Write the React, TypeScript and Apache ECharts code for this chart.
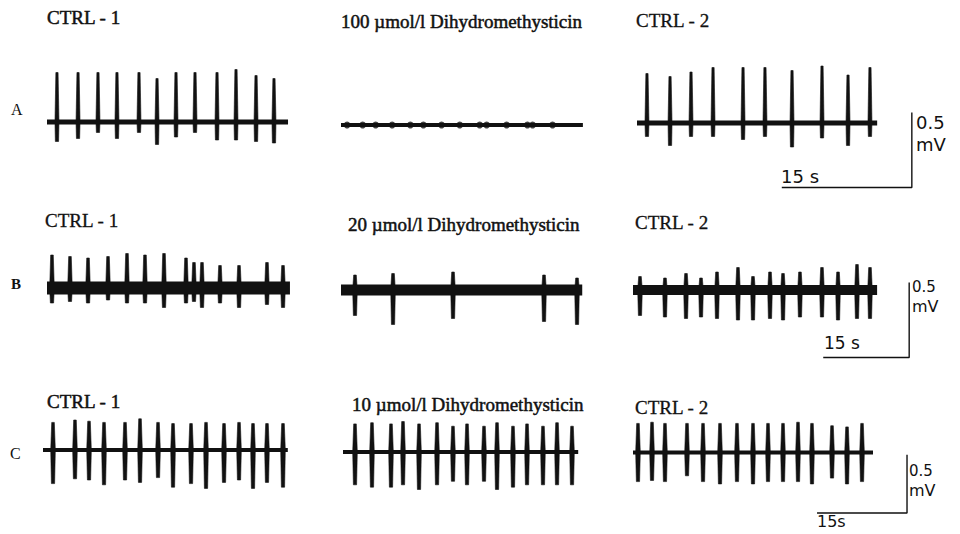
import React, { useEffect, useRef } from "react";
import * as echarts from "echarts";

// ---- Data (seconds, mV) ----
// Row A : 100 µmol/l
const A1_TIMES = [1.15, 3.58, 5.88, 8.07, 10.61, 12.69, 14.88, 17.07, 19.61, 21.8, 24.11, 26.18];
const A1_UP = [0.33, 0.33, 0.33, 0.33, 0.33, 0.29, 0.33, 0.33, 0.33, 0.35, 0.31, 0.29];
const A1_DOWN = [0.13, 0.11, 0.07, 0.11, 0.07, 0.15, 0.1, 0.07, 0.12, 0.12, 0.13, 0.14];
const A2_TIMES: number[] = [];
const A2_UP: number[] = [];
const A2_DOWN: number[] = [];
// small noise blobs on the otherwise flat 100 µmol/l trace
const A2_BLOB_TIMES = [0.7, 2.5, 4.0, 5.9, 8.0, 9.5, 11.6, 13.7, 16.0, 16.8, 19.1, 21.5, 22.1, 24.4];
const A3_TIMES = [1.15, 3.81, 6.23, 8.77, 12.23, 14.76, 17.88, 21.34, 24.34, 26.87];
const A3_UP = [0.33, 0.31, 0.34, 0.37, 0.37, 0.37, 0.35, 0.38, 0.32, 0.37];
const A3_DOWN = [0.09, 0.15, 0.09, 0.09, 0.11, 0.09, 0.16, 0.1, 0.15, 0.09];

// Row B : 20 µmol/l
const B1_TIMES = [0.87, 4.01, 7.16, 10.65, 13.96, 17.1, 20.42, 24.26, 25.65, 27.05, 30.19, 33.51, 38.39, 41.19];
const B1_UP = [0.22, 0.21, 0.2, 0.21, 0.23, 0.22, 0.23, 0.2, 0.17, 0.17, 0.15, 0.15, 0.17, 0.15];
const B1_DOWN = [0.1, 0.09, 0.1, 0.08, 0.1, 0.1, 0.13, 0.1, 0.09, 0.13, 0.1, 0.13, 0.11, 0.13];
const B2_TIMES = [2.44, 9.08, 19.55, 35.43, 41.19];
const B2_UP = [0.1, 0.11, 0.12, 0.1, 0.08];
const B2_DOWN = [0.17, 0.23, 0.19, 0.21, 0.23];
const B3_TIMES = [1.22, 5.58, 9.25, 11.87, 14.66, 18.32, 20.94, 23.91, 26.18, 29.14, 32.98, 35.78, 39.09, 41.36];
const B3_UP = [0.09, 0.08, 0.11, 0.08, 0.12, 0.15, 0.09, 0.12, 0.11, 0.12, 0.15, 0.12, 0.17, 0.15];
const B3_DOWN = [0.17, 0.18, 0.19, 0.18, 0.19, 0.2, 0.2, 0.19, 0.2, 0.18, 0.18, 0.2, 0.19, 0.19];

// Row C : 10 µmol/l
const C1_TIMES = [1.67, 5.33, 7.67, 10.17, 13.67, 16.17, 19.17, 21.67, 24.67, 27.17, 30.17, 32.67, 35.0, 37.33, 40.0];
const C1_UP = [0.23, 0.25, 0.24, 0.23, 0.23, 0.26, 0.23, 0.22, 0.22, 0.23, 0.22, 0.23, 0.22, 0.22, 0.22];
const C1_DOWN = [0.28, 0.24, 0.25, 0.29, 0.25, 0.27, 0.23, 0.31, 0.28, 0.32, 0.27, 0.25, 0.32, 0.27, 0.31];
const C2_TIMES = [2.0, 4.83, 8.0, 10.0, 12.67, 15.67, 18.33, 20.67, 23.5, 25.67, 28.33, 30.67, 33.33, 35.67, 38.17];
const C2_UP = [0.24, 0.25, 0.24, 0.26, 0.24, 0.25, 0.22, 0.24, 0.22, 0.25, 0.22, 0.24, 0.22, 0.25, 0.22];
const C2_DOWN = [0.28, 0.3, 0.3, 0.28, 0.32, 0.28, 0.25, 0.28, 0.25, 0.32, 0.3, 0.28, 0.28, 0.28, 0.28];
const C3_TIMES = [0.83, 3.17, 5.33, 9.0, 11.67, 14.5, 17.33, 20.0, 22.5, 25.0, 27.5, 29.83, 33.17, 35.67, 38.17];
const C3_UP = [0.25, 0.26, 0.25, 0.25, 0.25, 0.25, 0.25, 0.25, 0.25, 0.25, 0.26, 0.25, 0.23, 0.22, 0.25];
const C3_DOWN = [0.25, 0.24, 0.25, 0.2, 0.25, 0.27, 0.25, 0.27, 0.25, 0.25, 0.25, 0.27, 0.22, 0.27, 0.25];

// Recording durations (s)
const DURATIONS = [27.8, 27.9, 27.7, 42.4, 42.1, 42.6, 40.8, 39.2, 40.0];

// Text
const ROW_LETTERS = ["A", "B", "C"];
const CONCENTRATIONS = ["100 µmol/l Dihydromethysticin", "20 µmol/l Dihydromethysticin", "10 µmol/l Dihydromethysticin"];
const CTRL_LABELS = ["CTRL - 1", "CTRL - 2"];
const SCALE_TIME_LABELS = ["15 s", "15 s", "15s"];
const SCALE_AMP_LABELS = ["0.5", "0.5", "0.5"];
const SCALE_UNIT = "mV";
const SCALE_SECONDS = 15;
const SCALE_MV = 0.5;

// ---- Layout (pixels) ----
const ROWS = [
  { pxS: 8.67, pxMV: 150, barStart: 16.7, barLevel: -0.43 },
  { pxS: 5.73, pxMV: 150, barStart: 33.2, barLevel: -0.45 },
  { pxS: 6.0, pxMV: 130, barStart: 30.67, barLevel: -0.52 },
];

const PANELS = [
  { row: 0, left: 47, base: 122, band: 5, times: A1_TIMES, up: A1_UP, down: A1_DOWN },
  { row: 0, left: 341, base: 125, band: 4, times: A2_TIMES, up: A2_UP, down: A2_DOWN },
  { row: 0, left: 637, base: 123, band: 5, times: A3_TIMES, up: A3_UP, down: A3_DOWN },
  { row: 1, left: 47, base: 288, band: 13, times: B1_TIMES, up: B1_UP, down: B1_DOWN },
  { row: 1, left: 341, base: 290, band: 11, times: B2_TIMES, up: B2_UP, down: B2_DOWN },
  { row: 1, left: 633, base: 290, band: 10, times: B3_TIMES, up: B3_UP, down: B3_DOWN },
  { row: 2, left: 43, base: 457, band: 4, times: C1_TIMES, up: C1_UP, down: C1_DOWN },
  { row: 2, left: 343, base: 461, band: 4, times: C2_TIMES, up: C2_UP, down: C2_DOWN },
  { row: 2, left: 633, base: 462, band: 4, times: C3_TIMES, up: C3_UP, down: C3_DOWN },
];

const Y_RANGE = 0.7;
const INK = "#111111";
const SERIF = '"Liberation Serif", "Times New Roman", serif';
const SANS = '"DejaVu Sans", sans-serif';

function buildOption() {
  const grid: any[] = [];
  const xAxis: any[] = [];
  const yAxis: any[] = [];
  const series: any[] = [];

  PANELS.forEach((p, i) => {
    const r = ROWS[p.row];
    const dur = DURATIONS[i];
    const isLast = i % 3 === 2;
    const xMax = isLast ? Math.max(dur, r.barStart + SCALE_SECONDS) + 0.5 : dur;
    grid.push({
      left: p.left,
      top: p.base - Y_RANGE * r.pxMV,
      width: xMax * r.pxS,
      height: 2 * Y_RANGE * r.pxMV,
      containLabel: false,
    });
    xAxis.push({ type: "value", gridIndex: i, min: 0, max: xMax, show: false });
    yAxis.push({ type: "value", gridIndex: i, min: -Y_RANGE, max: Y_RANGE, show: false });

    // baseline
    series.push({
      type: "line",
      xAxisIndex: i,
      yAxisIndex: i,
      data: [[0, 0], [dur, 0]],
      symbol: "none",
      silent: true,
      lineStyle: { color: INK, width: p.band, cap: "butt" },
    });

    // spikes
    series.push({
      type: "custom",
      xAxisIndex: i,
      yAxisIndex: i,
      silent: true,
      data: p.times.map((t, k) => [t, p.up[k], p.down[k]]),
      encode: { x: 0, y: [1, 2] },
      renderItem: (params: any, api: any) => {
        const t = api.value(0);
        const top = api.coord([t, api.value(1)]);
        const bot = api.coord([t, -api.value(2)]);
        const mid = api.coord([t, 0]);
        const w = p.row === 0 ? 2.0 : 2.3;
        const tip = p.row === 0 ? 1.1 : 1.3;
        return {
          type: "polygon",
          shape: {
            points: [
              [top[0] - tip, top[1]],
              [top[0] + tip, top[1]],
              [mid[0] + w, mid[1]],
              [bot[0] + 1.6, bot[1]],
              [bot[0] - 1.6, bot[1]],
              [mid[0] - w, mid[1]],
            ],
          },
          style: { fill: INK, stroke: INK, lineWidth: 0.6 },
        };
      },
    });

    if (i === 1) {
      series.push({
        type: "scatter",
        xAxisIndex: i,
        yAxisIndex: i,
        silent: true,
        symbol: "circle",
        symbolSize: [7, 7],
        data: A2_BLOB_TIMES.map((t) => [t, 0]),
        itemStyle: { color: INK },
      });
    }

    if (isLast) {
      series.push({
        type: "line",
        xAxisIndex: i,
        yAxisIndex: i,
        symbol: "none",
        silent: true,
        data: [
          [r.barStart, r.barLevel],
          [r.barStart + SCALE_SECONDS, r.barLevel],
          [r.barStart + SCALE_SECONDS, r.barLevel + SCALE_MV],
        ],
        lineStyle: { color: INK, width: 1.4 },
      });
    }
  });

  const txt = (text: string, x: number, y: number, font: string, bold = 0) => ({
    type: "text",
    x,
    y,
    silent: true,
    style: {
      text,
      font,
      fill: INK,
      stroke: bold ? INK : undefined,
      lineWidth: bold,
      textAlign: "left",
      textVerticalAlign: "middle",
      align: "left",
      verticalAlign: "middle",
    },
  });

  const titleFont = `19px ${SERIF}`;
  const graphic: any[] = [
    txt(ROW_LETTERS[0], 11, 109, `16px ${SERIF}`),
    txt(ROW_LETTERS[1], 11, 284, `bold 15px ${SERIF}`),
    txt(ROW_LETTERS[2], 10, 453, `16px ${SERIF}`),
    txt(CTRL_LABELS[0], 47, 17, titleFont, 0.5),
    txt(CONCENTRATIONS[0], 341, 21, titleFont, 0.5),
    txt(CTRL_LABELS[1], 636, 20, titleFont, 0.3),
    txt(CTRL_LABELS[0], 45, 220, titleFont, 0.3),
    txt(CONCENTRATIONS[1], 348, 224, titleFont, 0.5),
    txt(CTRL_LABELS[1], 635, 222, titleFont, 0.3),
    txt(CTRL_LABELS[0], 47, 401, titleFont, 0.5),
    txt(CONCENTRATIONS[2], 352, 404, titleFont, 0.5),
    txt(CTRL_LABELS[1], 635, 407, titleFont, 0.3),
    txt(SCALE_AMP_LABELS[0], 916, 122, `18px ${SANS}`),
    txt(SCALE_UNIT, 916, 144, `18px ${SANS}`),
    txt(SCALE_TIME_LABELS[0], 781, 176, `18px ${SANS}`),
    txt(SCALE_AMP_LABELS[1], 912, 287, `15px ${SANS}`),
    txt(SCALE_UNIT, 912, 306, `16px ${SANS}`),
    txt(SCALE_TIME_LABELS[1], 824, 343, `17px ${SANS}`),
    txt(SCALE_AMP_LABELS[2], 909, 471, `15px ${SANS}`),
    txt(SCALE_UNIT, 909, 490, `16px ${SANS}`),
    txt(SCALE_TIME_LABELS[2], 817, 521, `16px ${SANS}`),
  ];

  return {
    animation: false,
    backgroundColor: "#ffffff",
    grid,
    xAxis,
    yAxis,
    series,
    graphic,
  };
}

export default function App() {
  const ref = useRef<HTMLDivElement>(null);
  useEffect(() => {
    if (!ref.current) return;
    const chart = echarts.init(ref.current, undefined, { renderer: "svg" });
    chart.setOption(buildOption() as any);
    return () => chart.dispose();
  }, []);
  return (
    <div
      ref={ref}
      style={{ position: "fixed", left: 0, top: 0, width: 960, height: 534, background: "#fff" }}
    />
  );
}
